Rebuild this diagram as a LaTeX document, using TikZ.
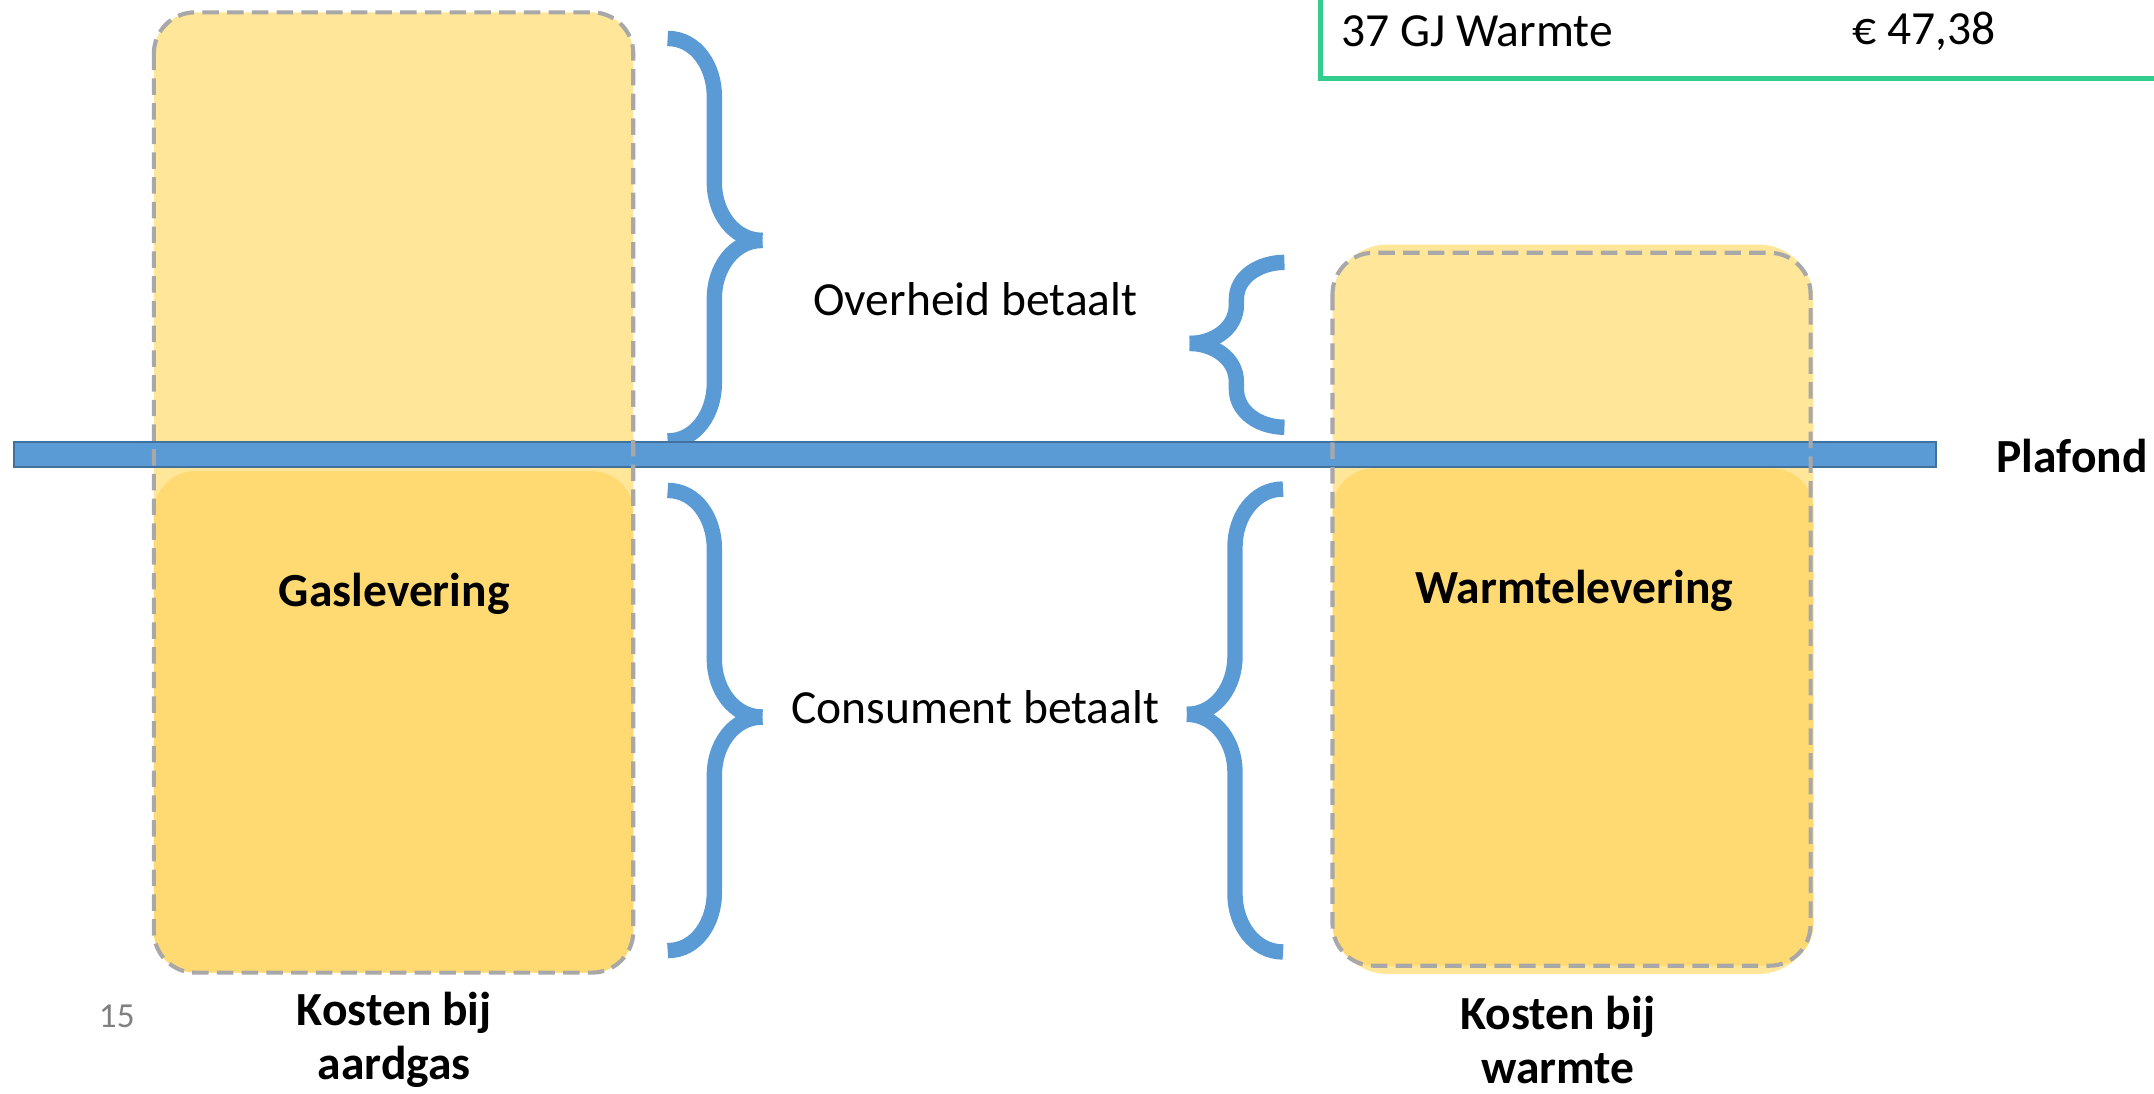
\documentclass[tikz,border=0pt]{standalone}
\usepackage{fontspec}
\setmainfont{Carlito}
\usepackage{tikz}
\usetikzlibrary{positioning}

\definecolor{barblue}{RGB}{91,155,213}
\definecolor{barline}{RGB}{65,113,156}
\definecolor{lightyellow}{RGB}{255,230,153}
\definecolor{darkyellow}{RGB}{255,218,115}
\definecolor{dashgray}{RGB}{168,168,168}
\definecolor{tablegreen}{RGB}{50,204,143}

\tikzset{
	plaintext/.style={inner sep=0pt,font=\fontsize{17.3}{20.8}\selectfont},
	boldtext/.style={inner sep=0pt,align=center,font=\fontsize{17.3}{19.5}\selectfont\bfseries},
	brace/.style={draw=barblue,line width=5.6pt,line cap=butt},
	costbox/.style={draw=dashgray,line width=1.5pt,dash pattern=on 6pt off 3pt,rounded corners=15pt}
}

\begin{document}
\begin{tikzpicture}[x=0.5pt,y=-0.5pt]
		\clip (0,0) rectangle (1568,796);

		\draw[tablegreen,line width=1.8pt] (961,-10) |- (1590,57);
		\node[plaintext,anchor=west] (gj) at (976,23) {37 GJ Warmte};
		\node[plaintext,anchor=west] (prijs) at (1348,23) {€ 47,38};

		\fill[lightyellow,rounded corners=15pt] (112,9) rectangle (461,708);
		\fill[darkyellow,rounded corners=15pt] (112,343) rectangle (461,708);
		\fill[lightyellow,rounded corners=20pt] (970,178) rectangle (1320,709);
		\fill[darkyellow,rounded corners=15pt] (970,341) rectangle (1320,703);

		\begin{scope}[brace]
			\draw (486,28) to[out=0,in=90] (520,70) -- (520,133) to[out=-90,in=180] (555,175);
			\draw (555,175) to[out=180,in=90] (520,217) -- (520,279) to[out=-90,in=0] (486,321);
			\draw (486,357) to[out=0,in=90] (520,399) -- (520,480) to[out=-90,in=180] (555,522);
			\draw (555,522) to[out=180,in=90] (520,564) -- (520,650) to[out=-90,in=0] (486,692);
			\draw (934,356) to[out=180,in=90] (899,398) -- (899,478) to[out=-90,in=0] (864,520);
			\draw (864,520) to[out=0,in=90] (899,562) -- (899,651) to[out=-90,in=180] (934,693);
			\draw (935,191) to[out=180,in=90] (900,218) -- (900,222) to[out=-90,in=0] (866,250);
			\draw (866,250) to[out=0,in=90] (900,278) -- (900,283) to[out=-90,in=180] (935,311);
		\end{scope}

		\draw[barline,fill=barblue,line width=0.8pt] (10,322) rectangle (1409,340);

		\draw[costbox] (112,9) rectangle (461,708);
		\draw[costbox] (970,184) rectangle (1318,703);

		\begin{scope}[every node/.style={boldtext}]
			\node[anchor=west] (plafond) at (1453,332) {Plafond};
			\node (gas) at (287,432) {Gaslevering};
			\node (warmte) at (1146,430) {Warmtelevering};
			\node (kostengas) at (287,757) {Kosten bij\\aardgas};
			\node (kostenwarmte) at (1134,757) {Kosten bij\\warmte};
		\end{scope}

		\node[plaintext] (overheid) at (710,218) {Overheid betaalt};
		\node[plaintext] (consument) at (710,515) {Consument betaalt};
		\node[inner sep=0pt,text=gray,font=\fontsize{12.8}{15}\selectfont] (pagina) at (85,740) {15};
	\end{tikzpicture}
\end{document}
